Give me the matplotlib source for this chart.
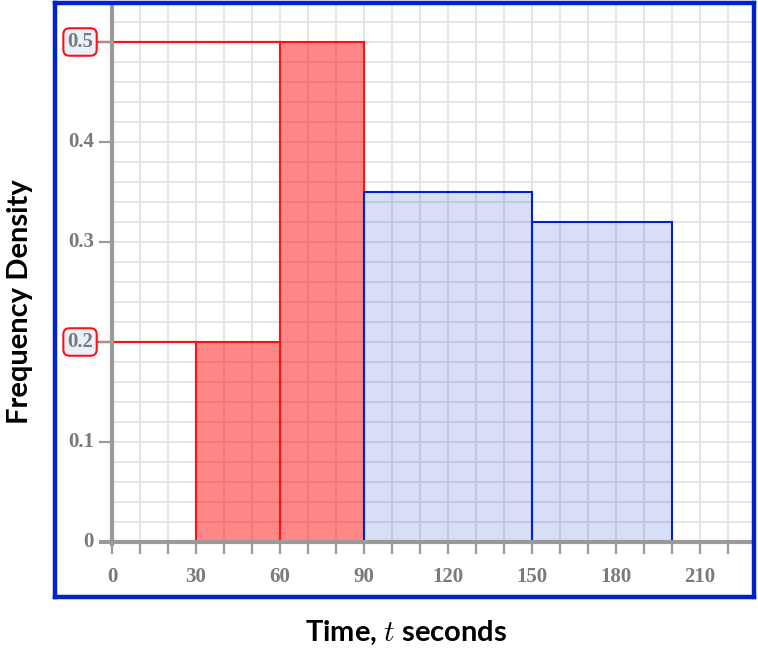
import matplotlib.pyplot as plt
from matplotlib.patches import Rectangle

plt.rcParams['mathtext.fontset'] = 'cm'

# histogram data
bin_edges = [30, 60, 90, 150, 200]
densities = [0.2, 0.5, 0.35, 0.32]
bar_groups = ['red', 'red', 'blue', 'blue']
x_ticks = [0, 30, 60, 90, 120, 150, 180, 210]
y_ticks = [0, 0.1, 0.2, 0.3, 0.4, 0.5]
highlight_y = [0.2, 0.5]
highlight_x_end = [30, 60]

BLUE = '#0022cc'
RED = '#ff1111'
GREY = '#9a9a9a'
LABEL_GREY = '#7a7a7a'

fig = plt.figure(figsize=(7.58, 6.52), dpi=100)
# axes spans the blue frame
ax = fig.add_axes([55 / 758, (652 - 597) / 652, 699 / 758, 594 / 652])
ax.set_xlim((55 - 112) / 2.8, (754 - 112) / 2.8)
ax.set_ylim((542 - 597) / 1000, (542 - 3) / 1000)
ax.set_xticks([])
ax.set_yticks([])
for s in ax.spines.values():
    s.set_color(BLUE)
    s.set_linewidth(3.2)
    s.set_zorder(10)

x0, x1 = ax.get_xlim()
y0, y1 = ax.get_ylim()

# grid
for gx in range(0, 231, 10):
    ax.plot([gx, gx], [0, y1], color='#e3e3e3', lw=1.3, zorder=1)
for i in range(0, 28):
    gy = i * 0.02
    ax.plot([0, x1], [gy, gy], color='#e3e3e3', lw=1.3, zorder=1)

# bars
for left, right, h, g in zip(bin_edges[:-1], bin_edges[1:], densities, bar_groups):
    if g == 'red':
        fc, ec = (1, 0, 0, 0.47), RED
    else:
        fc, ec = (0, 0.133, 0.8, 0.15), BLUE
    ax.add_patch(Rectangle((left, 0), right - left, h, facecolor=fc,
                           edgecolor='none', zorder=2))
    ax.add_patch(Rectangle((left, 0), right - left, h, facecolor='none',
                           edgecolor=ec, lw=1.5, zorder=3))

# axes lines
ax.plot([-4.5, x1], [0, 0], color=GREY, lw=3, zorder=5, solid_capstyle='butt')
ax.plot([0, 0], [-0.004, y1], color=GREY, lw=3, zorder=5, solid_capstyle='butt')
for tx in range(0, 230, 10):
    ax.plot([tx, tx], [0, -0.011], color=GREY, lw=1.6, zorder=5)
for ty in y_ticks[1:]:
    ax.plot([-4.3, 0], [ty, ty], color=GREY, lw=1.6, zorder=5)

tick_font = dict(family='Liberation Serif', weight='bold', size=15, color=LABEL_GREY)
for tx in x_ticks:
    ax.text(tx, -0.035, str(tx), ha='center', va='center', **tick_font)
for ty in y_ticks:
    if ty in highlight_y:
        continue
    lbl = '0' if ty == 0 else f'{ty:.1f}'
    ax.text(-6.5, ty, lbl, ha='right', va='center', **tick_font)

# highlighted labels with red guide lines
for hy, hx in zip(highlight_y, highlight_x_end):
    ax.plot([-4.5, hx], [hy, hy], color=RED, lw=1.6, zorder=4)
    ax.text(-6.8, hy, f'{hy:.1f}', ha='right', va='center', zorder=6,
            bbox=dict(boxstyle='round,pad=0.18,rounding_size=0.3',
                      facecolor='#e8f1fc', edgecolor=RED, lw=1.5),
            **tick_font)

fig.text(20 / 758, 1 - 302 / 652, 'Frequency Density', rotation=90,
         ha='center', va='center', family='Lato', weight='bold', size=21)
fig.text(406 / 758, 1 - 633 / 652, 'Time, $t$ seconds', ha='center', va='center',
         family='Lato', weight='bold', size=21)

fig.savefig('out.png', dpi=100)
